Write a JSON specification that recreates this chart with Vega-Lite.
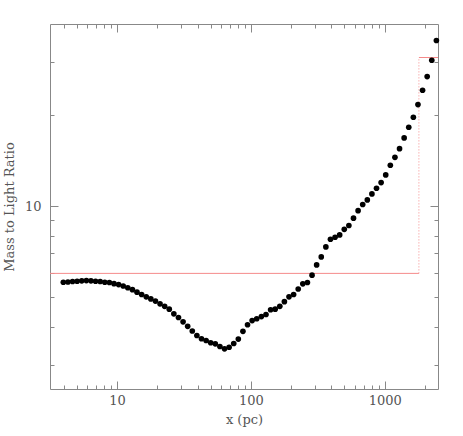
{
  "$schema": "https://vega.github.io/schema/vega-lite/v6.json",
  "autosize": {"type": "none"},
  "padding": {"left": 50, "top": 24, "right": 25, "bottom": 47},
  "width": 388,
  "height": 365,
  "background": "white",
  "config": {
    "view": {"stroke": "#888888", "strokeWidth": 1},
    "axis": {
      "grid": false,
      "domain": false,
      "tickColor": "#888888",
      "tickWidth": 1,
      "labelFont": "DejaVu Serif",
      "labelFontSize": 13,
      "labelColor": "#555555",
      "titleFont": "DejaVu Serif",
      "titleFontSize": 13,
      "titleFontWeight": "normal",
      "titleColor": "#555555"
    }
  },
  "datasets": {
    "ml": [
      {"r": 3.977, "ml": 5.61}, {"r": 4.305, "ml": 5.62}, {"r": 4.660, "ml": 5.64}, {"r": 5.044, "ml": 5.65},
      {"r": 5.460, "ml": 5.67}, {"r": 5.910, "ml": 5.68}, {"r": 6.397, "ml": 5.67}, {"r": 6.924, "ml": 5.65},
      {"r": 7.495, "ml": 5.64}, {"r": 8.113, "ml": 5.61}, {"r": 8.781, "ml": 5.60}, {"r": 9.504, "ml": 5.55},
      {"r": 10.29, "ml": 5.51}, {"r": 11.14, "ml": 5.45}, {"r": 12.05, "ml": 5.38}, {"r": 13.05, "ml": 5.30},
      {"r": 14.12, "ml": 5.20}, {"r": 15.29, "ml": 5.11}, {"r": 16.55, "ml": 5.02}, {"r": 17.91, "ml": 4.94},
      {"r": 19.39, "ml": 4.86}, {"r": 20.98, "ml": 4.76}, {"r": 22.72, "ml": 4.67}, {"r": 24.59, "ml": 4.57},
      {"r": 26.61, "ml": 4.41}, {"r": 28.81, "ml": 4.29}, {"r": 31.18, "ml": 4.15}, {"r": 33.75, "ml": 4.01},
      {"r": 36.53, "ml": 3.87}, {"r": 39.54, "ml": 3.74}, {"r": 42.80, "ml": 3.65}, {"r": 46.33, "ml": 3.60},
      {"r": 50.15, "ml": 3.54}, {"r": 54.28, "ml": 3.51}, {"r": 58.75, "ml": 3.44}, {"r": 63.60, "ml": 3.38},
      {"r": 68.84, "ml": 3.42}, {"r": 74.51, "ml": 3.52}, {"r": 80.65, "ml": 3.64}, {"r": 87.30, "ml": 3.86},
      {"r": 94.51, "ml": 4.06}, {"r": 102.3, "ml": 4.19}, {"r": 110.7, "ml": 4.25}, {"r": 119.9, "ml": 4.32},
      {"r": 129.8, "ml": 4.39}, {"r": 140.5, "ml": 4.55}, {"r": 152.0, "ml": 4.57}, {"r": 164.6, "ml": 4.67},
      {"r": 178.1, "ml": 4.84}, {"r": 192.8, "ml": 5.02}, {"r": 208.7, "ml": 5.11}, {"r": 225.9, "ml": 5.33},
      {"r": 244.5, "ml": 5.54}, {"r": 264.7, "ml": 5.60}, {"r": 286.5, "ml": 5.92}, {"r": 310.1, "ml": 6.40},
      {"r": 335.7, "ml": 6.80}, {"r": 363.4, "ml": 7.34}, {"r": 393.3, "ml": 7.78}, {"r": 425.7, "ml": 7.90},
      {"r": 460.8, "ml": 8.04}, {"r": 498.8, "ml": 8.39}, {"r": 539.9, "ml": 8.64}, {"r": 584.5, "ml": 9.13},
      {"r": 632.6, "ml": 9.67}, {"r": 684.8, "ml": 10.13}, {"r": 741.3, "ml": 10.49}, {"r": 802.4, "ml": 10.98},
      {"r": 868.5, "ml": 11.47}, {"r": 940.0, "ml": 11.97}, {"r": 1017.4, "ml": 12.69}, {"r": 1101.3, "ml": 13.66},
      {"r": 1192.1, "ml": 14.51}, {"r": 1290.3, "ml": 15.50}, {"r": 1396.7, "ml": 16.82}, {"r": 1511.8, "ml": 18.24},
      {"r": 1636.4, "ml": 19.68}, {"r": 1771.3, "ml": 21.67}, {"r": 1917.3, "ml": 24.16}, {"r": 2075.3, "ml": 26.82},
      {"r": 2246.4, "ml": 30.37}, {"r": 2431.5, "ml": 35.27}
    ],
    "hlines": [
      {"x1": 3.1623, "x2": 1800, "y": 6},
      {"x1": 1800, "x2": 2500, "y": 31}
    ],
    "vline": [
      {"x": 1800, "y1": 6, "y2": 31}
    ]
  },
  "resolve": {"axis": {"x": "independent", "y": "independent"}},
  "layer": [
    {
      "data": {"name": "hlines"},
      "mark": {"type": "rule", "color": "#f58a8a", "strokeWidth": 1},
      "encoding": {
        "x": {"field": "x1", "type": "quantitative", "scale": {"type": "log", "domain": [3.1623, 2500], "nice": false},
          "axis": {"orient": "top", "title": null, "labels": false,
            "values": [4,5,6,7,8,9,10,20,30,40,50,60,70,80,90,100,200,300,400,500,600,700,800,900,1000,2000],
            "tickSize": {"condition": {"test": "indexof([10,100,1000], datum.value) >= 0", "value": -8}, "value": -4}}},
        "x2": {"field": "x2"},
        "y": {"field": "y", "type": "quantitative", "scale": {"type": "log", "domain": [2.49, 40], "nice": false},
          "axis": {"orient": "right", "title": null, "labels": false,
            "values": [3,4,5,6,7,8,9,10,20,30],
            "tickSize": {"condition": {"test": "datum.value == 10", "value": -8}, "value": -4}}}
      }
    },
    {
      "data": {"name": "vline"},
      "mark": {"type": "rule", "color": "#f58a8a", "strokeWidth": 1, "strokeDash": [1, 2]},
      "encoding": {
        "x": {"field": "x", "type": "quantitative", "axis": null},
        "y": {"field": "y1", "type": "quantitative", "axis": null},
        "y2": {"field": "y2"}
      }
    },
    {
      "data": {"name": "ml"},
      "mark": {"type": "point", "filled": true, "color": "black", "opacity": 1, "size": 32},
      "encoding": {
        "x": {"field": "r", "type": "quantitative",
          "axis": {"orient": "bottom", "title": "x  (pc)", "titlePadding": 6,
            "values": [4,5,6,7,8,9,10,20,30,40,50,60,70,80,90,100,200,300,400,500,600,700,800,900,1000,2000],
            "labelExpr": "indexof([10,100,1000], datum.value) >= 0 ? format(datum.value, 'd') : ''",
            "labelPadding": 13,
            "tickSize": {"condition": {"test": "indexof([10,100,1000], datum.value) >= 0", "value": -8}, "value": -4}}},
        "y": {"field": "ml", "type": "quantitative",
          "axis": {"orient": "left", "title": "Mass to Light Ratio", "titlePadding": 8,
            "values": [3,4,5,6,7,8,9,10,20,30],
            "labelExpr": "datum.value == 10 ? '10' : ''",
            "labelPadding": 17,
            "tickSize": {"condition": {"test": "datum.value == 10", "value": -8}, "value": -4}}}
      }
    }
  ]
}
